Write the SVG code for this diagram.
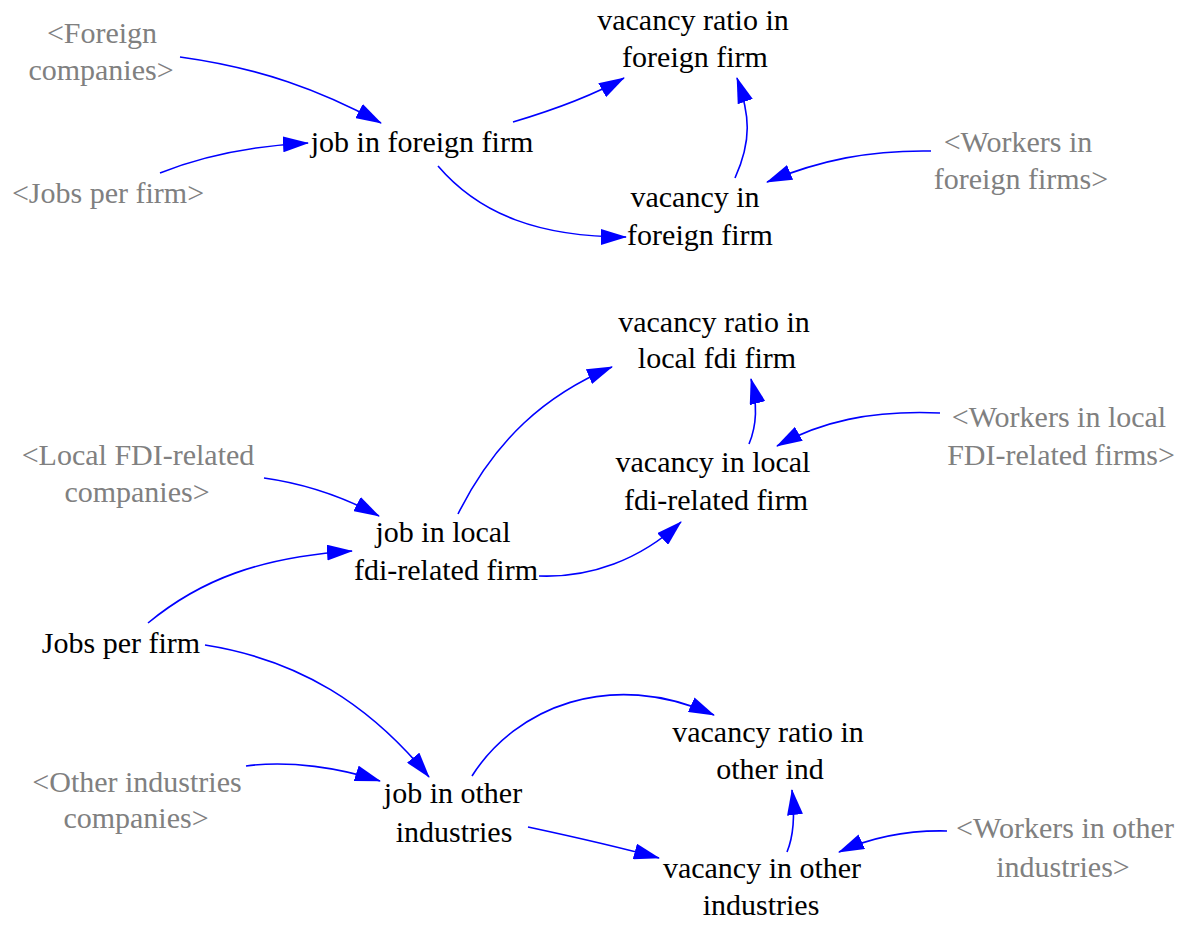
<svg xmlns="http://www.w3.org/2000/svg" width="1189" height="926" viewBox="0 0 1189 926">
<style>
text{font-family:"Liberation Serif","Times New Roman",serif;font-size:30px;text-anchor:middle}
.v{fill:#000}
.g{fill:#808080}
.c{fill:none;stroke:#0000ff;stroke-width:1.6;marker-end:url(#ah)}
</style>
<defs>
<marker id="ah" viewBox="0 0 26 16" refX="25" refY="8" markerWidth="26" markerHeight="16" markerUnits="userSpaceOnUse" orient="auto">
<path d="M0,0 L26,8 L0,16 Z" fill="#0000ff"/>
</marker>
</defs>
<rect width="1189" height="926" fill="#fff"/>
<g id="connectors">
<path class="c" d="M180,57 C260,68 320,90 381,123"/>
<path class="c" d="M160,173 C200,157 250,146 308,143"/>
<path class="c" d="M513,122 C550,111 590,97 624,78"/>
<path class="c" d="M438,166 C480,215 540,237 626,237"/>
<path class="c" d="M735,178 C752,140 750,115 737,78"/>
<path class="c" d="M931,151 C870,150 820,160 767,182"/>
<path class="c" d="M264,478 C300,483 340,495 379,516"/>
<path class="c" d="M148,623 C200,580 260,557 352,551"/>
<path class="c" d="M458,514 C495,440 545,395 612,367"/>
<path class="c" d="M539,576 C590,578 640,560 681,522"/>
<path class="c" d="M749,444 C757,425 758,405 751,379"/>
<path class="c" d="M940,413 C870,410 820,422 777,446"/>
<path class="c" d="M205,645 C300,660 370,705 429,777"/>
<path class="c" d="M246,766 C290,760 340,768 380,781"/>
<path class="c" d="M472,776 C515,708 610,668 714,715"/>
<path class="c" d="M528,827 C570,836 615,846 659,858"/>
<path class="c" d="M787,852 C794,835 795,815 792,790"/>
<path class="c" d="M947,831 C905,830 870,838 839,852"/>
</g>
<g id="foreign_companies"><text class="g" x="102" y="43">&lt;Foreign</text><text class="g" x="101" y="80">companies&gt;</text></g>
<g id="jobs_per_firm_ghost"><text class="g" x="108" y="203">&lt;Jobs per firm&gt;</text></g>
<g id="job_in_foreign_firm"><text class="v" x="422" y="152">job in foreign firm</text></g>
<g id="vacancy_ratio_foreign"><text class="v" x="693" y="30">vacancy ratio in</text><text class="v" x="695" y="67">foreign firm</text></g>
<g id="vacancy_foreign"><text class="v" x="695" y="207">vacancy in</text><text class="v" x="700" y="245">foreign firm</text></g>
<g id="workers_foreign"><text class="g" x="1018" y="152">&lt;Workers in</text><text class="g" x="1021" y="189">foreign firms&gt;</text></g>
<g id="vacancy_ratio_local"><text class="v" x="714" y="332">vacancy ratio in</text><text class="v" x="717" y="368">local fdi firm</text></g>
<g id="workers_local"><text class="g" x="1059" y="427">&lt;Workers in local</text><text class="g" x="1061" y="465">FDI-related firms&gt;</text></g>
<g id="vacancy_local"><text class="v" x="713" y="472">vacancy in local</text><text class="v" x="716" y="510">fdi-related firm</text></g>
<g id="local_fdi_companies"><text class="g" x="138" y="465">&lt;Local FDI-related</text><text class="g" x="137" y="502">companies&gt;</text></g>
<g id="job_local"><text class="v" x="443" y="542">job in local</text><text class="v" x="446" y="580">fdi-related firm</text></g>
<g id="jobs_per_firm"><text class="v" x="121" y="653">Jobs per firm</text></g>
<g id="vacancy_ratio_other"><text class="v" x="768" y="742">vacancy ratio in</text><text class="v" x="770" y="779">other ind</text></g>
<g id="other_companies"><text class="g" x="137" y="792">&lt;Other industries</text><text class="g" x="136" y="828">companies&gt;</text></g>
<g id="job_other"><text class="v" x="453" y="803">job in other</text><text class="v" x="454" y="842">industries</text></g>
<g id="workers_other"><text class="g" x="1065" y="838">&lt;Workers in other</text><text class="g" x="1063" y="877">industries&gt;</text></g>
<g id="vacancy_other"><text class="v" x="762" y="878">vacancy in other</text><text class="v" x="761" y="915">industries</text></g>
</svg>
